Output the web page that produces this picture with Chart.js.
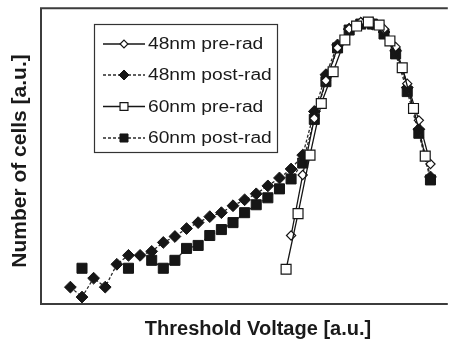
<!DOCTYPE html>
<html>
<head>
<meta charset="utf-8">
<script src="https://cdn.jsdelivr.net/npm/chart.js@4/dist/chart.umd.min.js"></script>
<style>
  html, body { margin: 0; padding: 0; background: #fff; }
  canvas { display: block; }
</style>
</head>
<body>
<canvas id="vtChart" width="454" height="341"></canvas>
<script>
const seriesNames = ['48nm pre-rad', '48nm post-rad', '60nm pre-rad', '60nm post-rad'];
const xTitle = 'Threshold Voltage [a.u.]';
const yTitle = 'Number of cells [a.u.]';

// x = threshold voltage step (a.u.), y = cell count (a.u.)
const pre48X = [19, 20, 21, 22, 23, 24, 25, 26, 27, 28, 29, 30, 31];
const pre48Y = [69, 130, 187, 225, 258, 277, 284, 284, 277, 259, 222, 185, 141];

const post48X = [0, 1, 2, 3, 4, 5, 6, 7, 8, 9, 10, 11, 12, 13, 14, 15,
                 16, 17, 18, 19, 20, 21, 22, 23, 24, 25, 26, 27, 28, 29, 30, 31];
const post48Y = [17, 7, 26, 17, 40, 49, 49, 53, 62, 68, 76, 82, 88, 92, 99, 105,
                 111, 119, 127, 136, 150, 194, 231, 261, 277, 283, 282, 274, 255, 218, 176, 128];

const pre60X = [18.57, 19.6, 20.63, 21.6, 22.62, 23.63, 24.64, 25.65, 26.58, 27.51, 28.57, 29.54, 30.55];
const pre60Y = [35, 91, 150, 202, 234, 266, 280, 284, 281, 265, 238, 197, 149];

// no readable 60nm post-rad points at steps 2-4 and 6
const post60X = [1, 2, 3, 4, 5, 6, 7, 8, 9, 10, 11, 12, 13, 14, 15, 16, 17, 18, 19, 20,
                 21, 22, 23, 24, 25, 26, 27, 28, 29, 30, 31];
const post60Y = [36, null, null, null, 36, null, 44, 36, 44, 56, 59, 69, 75, 82, 92, 100, 107, 116, 126, 142,
                 186, 224, 258, 276, 282, 282, 272, 252, 214, 172, 125];

function pts(xs, ys) {
  return xs.map((x, i) => ({ x: x, y: ys[i] }));
}

const ink = '#161616';
const dashInk = '#2a2a2a';

const styles = [
  { borderColor: ink, borderWidth: 1.3, borderDash: [], pointStyle: 'rectRot', pointRadius: 4.6,
    pointBackgroundColor: '#fff', pointBorderColor: ink, pointBorderWidth: 1.2 },
  { borderColor: dashInk, borderWidth: 1.3, borderDash: [3, 2], pointStyle: 'rectRot', pointRadius: 5.9,
    pointBackgroundColor: ink, pointBorderColor: ink, pointBorderWidth: 1 },
  { borderColor: ink, borderWidth: 1.3, borderDash: [], pointStyle: 'rect', pointRadius: 7,
    pointBackgroundColor: '#fff', pointBorderColor: ink, pointBorderWidth: 1.2 },
  { borderColor: dashInk, borderWidth: 1.3, borderDash: [3, 2], pointStyle: 'rect', pointRadius: 7.1,
    pointBackgroundColor: ink, pointBorderColor: ink, pointBorderWidth: 1 }
];

const frameAndText = {
  id: 'frameAndText',
  afterDatasetsDraw(chart) {
    const ctx = chart.ctx;
    const a = chart.chartArea;
    ctx.save();
    // frame (left, top, bottom)
    ctx.strokeStyle = '#3c3c3c';
    ctx.lineWidth = 2;
    ctx.beginPath();
    ctx.moveTo(a.right + 2, a.top);
    ctx.lineTo(a.left, a.top);
    ctx.lineTo(a.left, a.bottom);
    ctx.lineTo(a.right + 2, a.bottom);
    ctx.stroke();

    // legend box
    const bx = 94.5, by = 24.5, bw = 183, bh = 128;
    ctx.fillStyle = '#fff';
    ctx.fillRect(bx, by, bw, bh);
    ctx.strokeStyle = '#333';
    ctx.lineWidth = 1.2;
    ctx.strokeRect(bx, by, bw, bh);

    const rowY = [44, 75, 106.5, 138];
    chart.data.datasets.forEach((ds) => {
      const idx = seriesNames.indexOf(ds.label);
      const y = rowY[idx];
      const st = styles[idx];
      ctx.save();
      ctx.strokeStyle = st.borderColor;
      ctx.lineWidth = st.borderWidth;
      ctx.setLineDash(st.borderDash);
      ctx.beginPath();
      ctx.moveTo(103, y);
      ctx.lineTo(145, y);
      ctx.stroke();
      ctx.setLineDash([]);
      ctx.fillStyle = st.pointBackgroundColor;
      ctx.strokeStyle = st.pointBorderColor;
      ctx.lineWidth = st.pointBorderWidth;
      Chart.helpers.drawPoint(ctx, {
        pointStyle: st.pointStyle,
        radius: st.pointStyle === 'rect' ? st.pointRadius * 0.8 : st.pointRadius * 0.85,
        borderWidth: st.pointBorderWidth,
        rotation: 0
      }, 124, y);
      ctx.restore();

      ctx.save();
      ctx.fillStyle = '#1a1a1a';
      ctx.font = '16px "Liberation Sans", Arial, sans-serif';
      ctx.textBaseline = 'middle';
      ctx.translate(148, y + 1);
      ctx.scale(1.2, 1);
      ctx.fillText(ds.label, 0, 0);
      ctx.restore();
    });

    // axis titles
    ctx.fillStyle = '#1a1a1a';
    ctx.textAlign = 'center';
    ctx.textBaseline = 'middle';
    ctx.font = 'bold 20px "Liberation Sans", Arial, sans-serif';
    ctx.fillText(xTitle, 258, 329);

    ctx.translate(20, 161);
    ctx.rotate(-Math.PI / 2);
    ctx.font = 'bold 21px "Liberation Sans", Arial, sans-serif';
    ctx.fillText(yTitle, 0, 0);
    ctx.restore();
  }
};

const seriesData = [pts(pre48X, pre48Y), pts(post48X, post48Y), pts(pre60X, pre60Y), pts(post60X, post60Y)];
const drawOrder = [1, 2, 0, 3];

new Chart(document.getElementById('vtChart'), {
  type: 'line',
  data: {
    datasets: seriesNames.map((name, i) => Object.assign({
      label: name,
      data: seriesData[i],
      fill: false,
      tension: 0,
      spanGaps: false,
      order: drawOrder[i]
    }, styles[i]))
  },
  options: {
    responsive: false,
    animation: false,
    layout: { padding: { left: 41, top: 6, right: 0, bottom: 37 } },
    plugins: {
      legend: { display: false },
      tooltip: { enabled: false }
    },
    scales: {
      x: { type: 'linear', display: false, min: -2.53, max: 32.32 },
      y: { type: 'linear', display: false, min: 0, max: 298 }
    }
  },
  plugins: [frameAndText]
});
</script>
</body>
</html>
